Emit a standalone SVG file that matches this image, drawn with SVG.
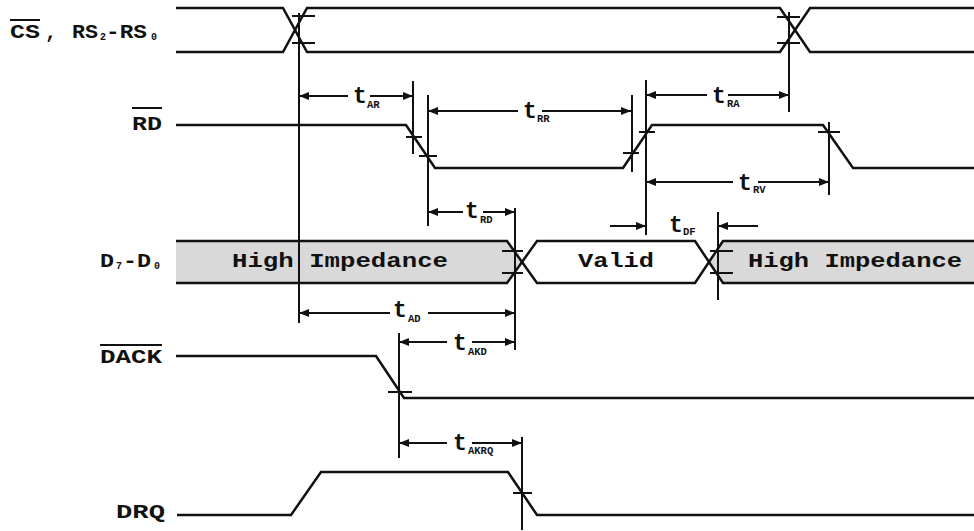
<svg xmlns="http://www.w3.org/2000/svg" width="974" height="531" viewBox="0 0 974 531">
<defs>
<marker id="ah" viewBox="0 0 10 8" refX="10" refY="4" markerWidth="10" markerHeight="8" markerUnits="userSpaceOnUse" orient="auto-start-reverse">
<path d="M0,0 L10,4 L0,8 z" fill="#111"/>
</marker>
<style>
.sig{fill:none;stroke:#111;stroke-width:2.5;stroke-linejoin:miter}
.ref{fill:none;stroke:#111;stroke-width:2}
.tick{stroke:#111;stroke-width:2}
.arr{stroke:#111;stroke-width:2;fill:none}
.lbl{font-family:"Liberation Mono","DejaVu Sans Mono",monospace;font-weight:bold;font-size:20px;fill:#111}
.sub{font-family:"Liberation Mono","DejaVu Sans Mono",monospace;font-weight:bold;font-size:10px;fill:#111}
.t{font-family:"Liberation Mono","DejaVu Sans Mono",monospace;font-weight:bold;font-size:23px;fill:#111}
.ts{font-family:"Liberation Mono","DejaVu Sans Mono",monospace;font-weight:bold;font-size:10.5px;fill:#111}
.bus{font-family:"Liberation Mono","DejaVu Sans Mono",monospace;font-weight:bold;font-size:20px;fill:#111}
.gray{fill:#d9d9d9;stroke:none}
</style>
</defs>
<rect width="974" height="531" fill="#fff"/>

<g id="cs">
<text class="lbl" x="10" y="38" textLength="30" lengthAdjust="spacingAndGlyphs">CS</text>
<line x1="10" y1="20" x2="40" y2="20" class="tick"/>
<text class="lbl" x="45" y="38">,</text>
<text class="lbl" x="72" y="38" textLength="26" lengthAdjust="spacingAndGlyphs">RS</text>
<text class="sub" x="100" y="40">2</text>
<text class="lbl" x="106" y="38" textLength="41" lengthAdjust="spacingAndGlyphs">-RS</text>
<text class="sub" x="151" y="40">0</text>
<path class="sig" d="M176,8 H283 L307,52 H780 L810,8 H974"/>
<path class="sig" d="M176,52 H283 L307,8 H780 L810,52 H974"/>
</g>

<g id="rd">
<text class="lbl" x="132" y="130" textLength="30" lengthAdjust="spacingAndGlyphs">RD</text>
<line x1="132" y1="108" x2="162" y2="108" class="tick"/>
<path class="sig" d="M176,125 H406 L435,168 H623 L652,125 H823 L853,168 H974"/>
</g>

<g id="data">
<polygon class="gray" points="176,241 507,241 522,262 507,283 176,283"/>
<polygon class="gray" points="723,241 974,241 974,283 723,283 709,262"/>
<path class="sig" d="M176,241 H507 L537,283 H695 L723,241 H974"/>
<path class="sig" d="M176,283 H507 L537,241 H695 L723,283 H974"/>
<text class="bus" x="232" y="267" textLength="216" lengthAdjust="spacingAndGlyphs">High Impedance</text>
<text class="bus" x="578" y="267" textLength="76" lengthAdjust="spacingAndGlyphs">Valid</text>
<text class="bus" x="748" y="267" textLength="214" lengthAdjust="spacingAndGlyphs">High Impedance</text>
<text class="lbl" x="100" y="267" textLength="14" lengthAdjust="spacingAndGlyphs">D</text>
<text class="sub" x="116" y="269">7</text>
<text class="lbl" x="123" y="267" textLength="28" lengthAdjust="spacingAndGlyphs">-D</text>
<text class="sub" x="154" y="269">0</text>
</g>

<g id="dack">
<text class="lbl" x="100" y="363" textLength="62" lengthAdjust="spacingAndGlyphs">DACK</text>
<line x1="100" y1="345" x2="162" y2="345" class="tick"/>
<path class="sig" d="M176,356 H376 L404,398 H974"/>
</g>

<g id="drq">
<text class="lbl" x="116" y="518" textLength="49" lengthAdjust="spacingAndGlyphs">DRQ</text>
<path class="sig" d="M177,515 H291 L321,472 H508 L537,515 H974"/>
</g>

<g id="connectors">
<line class="ref" x1="299" y1="13" x2="299" y2="323"/>
<line class="ref" x1="789" y1="12" x2="789" y2="112"/>
<line class="ref" x1="413" y1="81" x2="413" y2="154"/>
<line class="ref" x1="428" y1="95" x2="428" y2="226"/>
<line class="ref" x1="632" y1="95" x2="632" y2="172"/>
<line class="ref" x1="646" y1="80" x2="646" y2="235"/>
<line class="ref" x1="829" y1="122" x2="829" y2="195"/>
<line class="ref" x1="515" y1="208" x2="515" y2="350"/>
<line class="ref" x1="718" y1="212" x2="718" y2="300"/>
<line class="ref" x1="399" y1="333" x2="399" y2="458"/>
<line class="ref" x1="522" y1="437" x2="522" y2="530"/>
<line class="tick" x1="292" y1="16" x2="315" y2="16"/>
<line class="tick" x1="292" y1="43" x2="315" y2="43"/>
<line class="tick" x1="777" y1="17" x2="800" y2="17"/>
<line class="tick" x1="777" y1="43" x2="800" y2="43"/>
<line class="tick" x1="406" y1="137" x2="422" y2="137"/>
<line class="tick" x1="419" y1="156" x2="437" y2="156"/>
<line class="tick" x1="623" y1="153" x2="639" y2="153"/>
<line class="tick" x1="639" y1="132" x2="655" y2="132"/>
<line class="tick" x1="818" y1="132" x2="840" y2="132"/>
<line class="tick" x1="502" y1="251" x2="523" y2="251"/>
<line class="tick" x1="502" y1="273" x2="523" y2="273"/>
<line class="tick" x1="710" y1="251" x2="733" y2="251"/>
<line class="tick" x1="710" y1="273" x2="733" y2="273"/>
<line class="tick" x1="388" y1="392" x2="412" y2="392"/>
<line class="tick" x1="513" y1="493" x2="532" y2="493"/>
<line class="arr" x1="348" y1="96" x2="299" y2="96" marker-end="url(#ah)"/>
<line class="arr" x1="370" y1="96" x2="413" y2="96" marker-end="url(#ah)"/>
<text class="t" x="353" y="103">t</text><text class="ts" x="367" y="108">AR</text>
<line class="arr" x1="518" y1="111" x2="428" y2="111" marker-end="url(#ah)"/>
<line class="arr" x1="542" y1="111" x2="631" y2="111" marker-end="url(#ah)"/>
<text class="t" x="523" y="118">t</text><text class="ts" x="537" y="122">RR</text>
<line class="arr" x1="707" y1="95" x2="646" y2="95" marker-end="url(#ah)"/>
<line class="arr" x1="728" y1="95" x2="789" y2="95" marker-end="url(#ah)"/>
<text class="t" x="712" y="103">t</text><text class="ts" x="727" y="107">RA</text>
<line class="arr" x1="733" y1="182" x2="646" y2="182" marker-end="url(#ah)"/>
<line class="arr" x1="758" y1="182" x2="829" y2="182" marker-end="url(#ah)"/>
<text class="t" x="738" y="190">t</text><text class="ts" x="753" y="193">RV</text>
<line class="arr" x1="463" y1="212" x2="428" y2="212" marker-end="url(#ah)"/>
<line class="arr" x1="483" y1="212" x2="515" y2="212" marker-end="url(#ah)"/>
<text class="t" x="465" y="218">t</text><text class="ts" x="480" y="223">RD</text>
<line class="arr" x1="610" y1="226" x2="646" y2="226" marker-end="url(#ah)"/>
<line class="arr" x1="758" y1="226" x2="718" y2="226" marker-end="url(#ah)"/>
<text class="t" x="669" y="232">t</text><text class="ts" x="683" y="235">DF</text>
<line class="arr" x1="390" y1="313" x2="299" y2="313" marker-end="url(#ah)"/>
<line class="arr" x1="428" y1="313" x2="515" y2="313" marker-end="url(#ah)"/>
<text class="t" x="393" y="317">t</text><text class="ts" x="408" y="322">AD</text>
<line class="arr" x1="447" y1="342" x2="399" y2="342" marker-end="url(#ah)"/>
<line class="arr" x1="472" y1="342" x2="515" y2="342" marker-end="url(#ah)"/>
<text class="t" x="453" y="350">t</text><text class="ts" x="468" y="355">AKD</text>
<line class="arr" x1="447" y1="443" x2="399" y2="443" marker-end="url(#ah)"/>
<line class="arr" x1="472" y1="443" x2="522" y2="443" marker-end="url(#ah)"/>
<text class="t" x="453" y="450">t</text><text class="ts" x="468" y="454">AKRQ</text>
</g>
</svg>
